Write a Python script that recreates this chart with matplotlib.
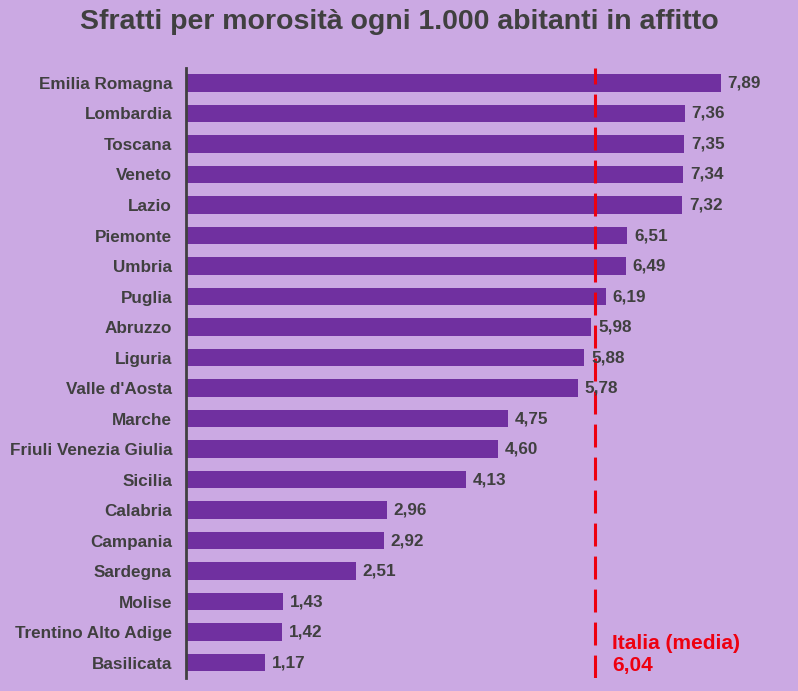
import matplotlib.pyplot as plt

regions = ["Emilia Romagna", "Lombardia", "Toscana", "Veneto", "Lazio",
           "Piemonte", "Umbria", "Puglia", "Abruzzo", "Liguria",
           "Valle d'Aosta", "Marche", "Friuli Venezia Giulia", "Sicilia",
           "Calabria", "Campania", "Sardegna", "Molise",
           "Trentino Alto Adige", "Basilicata"]
values = [7.89, 7.36, 7.35, 7.34, 7.32, 6.51, 6.49, 6.19, 5.98, 5.88,
          5.78, 4.75, 4.60, 4.13, 2.96, 2.92, 2.51, 1.43, 1.42, 1.17]
media_italia = 6.04

bg = "#cba9e3"
bar_color = "#7030a0"
text_color = "#404040"
red = "#ee0010"

plt.rcParams['font.family'] = ['Liberation Sans', 'DejaVu Sans']

fig = plt.figure(figsize=(7.98, 6.91), dpi=100, facecolor=bg)
ax = fig.add_axes([0.233, 0.019, 0.767, 0.883])
ax.set_facecolor(bg)

pos = list(range(len(regions)))
ax.barh(pos, values, height=0.57, color=bar_color, zorder=2)

for y, v in zip(pos, values):
    ax.text(v + 0.1, y, f"{v:.2f}".replace(".", ","), va="center", ha="left",
            fontsize=12.3, fontweight="bold", color=text_color, zorder=4)

# linea della media nazionale
ax.axvline(media_italia, color=red, linewidth=2.2, linestyle=(0, (7.5, 3.3)), zorder=3)
ax.text(media_italia + 0.25, 18.72, "Italia (media)\n6,04", color=red,
        fontsize=15, fontweight="bold", va="center", ha="left", linespacing=1.2)

ax.set_xlim(0, 9.03)
ax.set_ylim(19.5, -0.5)
ax.set_yticks(pos)
ax.set_yticklabels(regions, fontsize=12.3, fontweight="bold", color=text_color)
ax.tick_params(axis="y", length=0, pad=10)
ax.set_xticks([])
for side in ["top", "right", "bottom"]:
    ax.spines[side].set_visible(False)
ax.spines["left"].set_color(text_color)
ax.spines["left"].set_linewidth(2)

fig.text(0.5, 0.968, "Sfratti per morosità ogni 1.000 abitanti in affitto",
         ha="center", va="center", fontsize=20.5, fontweight="bold", color=text_color)

fig.savefig("out.png", facecolor=bg)
